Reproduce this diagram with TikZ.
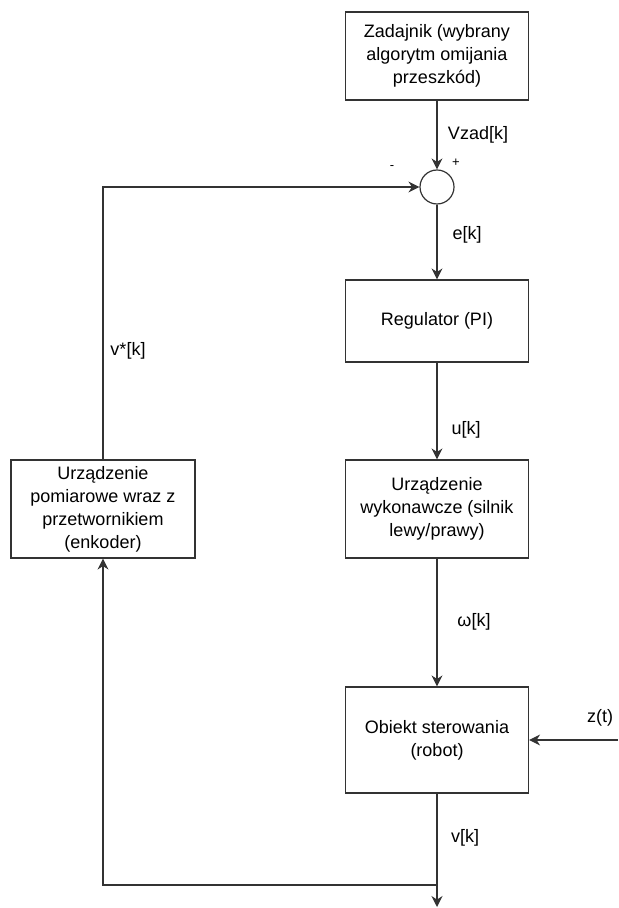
\documentclass[tikz,border=0pt]{standalone}
\usepackage{fontspec}
\setmainfont{Liberation Sans}
\usetikzlibrary{shapes,arrows.meta}

\begin{document}
\begin{tikzpicture}[x=0.5pt,y=-0.5pt,
        font=\fontsize{9}{11.5}\selectfont,
        blok/.style={draw=black!80, line width=0.6pt, minimum width=91.5pt, align=center, inner sep=2pt},
        strz/.style={draw=black!80, line width=0.6pt, -{Stealth[length=5.5pt,width=5.5pt]}},
        lin/.style={draw=black!80, line width=0.6pt},
        znak/.style={font=\fontsize{6.5}{7}\selectfont, inner sep=1pt}]
        \useasboundingbox (0,0) rectangle (618,908);

        % bloki toru glownego
        \node[blok, minimum height=44pt] (zad) at (437,56) {Zadajnik (wybrany\\algorytm omijania\\przeszkód)};
        \node[circle, draw=black!80, line width=0.6pt, minimum size=17pt, inner sep=0pt] (suma) at (437,187) {};
        \node[blok, minimum height=41pt] (reg) at (437,321) {Regulator (PI)};
        \node[blok, minimum height=49pt] (wyk) at (437,509) {Urządzenie\\wykonawcze (silnik\\lewy/prawy)};
        \node[blok, minimum height=53pt] (obj) at (437,740) {Obiekt sterowania\\(robot)};
        \node[blok, minimum width=92pt, minimum height=49pt] (pom) at (103,509) {Urządzenie\\pomiarowe wraz z\\przetwornikiem\\(enkoder)};
        \coordinate (wezel) at (437,885);
        \coordinate (wyj) at (437,907);
        \coordinate (zak) at (618,740);

        % polaczenia
        \draw[strz] (zad) -- (suma);
        \draw[strz] (suma) -- (reg);
        \draw[strz] (reg) -- (wyk);
        \draw[strz] (wyk) -- (obj);
        \draw[lin] (obj) -- (wezel);
        \draw[strz] (wezel) -- (wyj);
        \draw[strz] (wezel) -| (pom);
        \draw[strz] (pom) |- (suma);
        \draw[strz] (zak) -- (obj);

        % opisy sygnalow
        \node (vzad) at (478,135) {Vzad[k]};
        \node[znak] (plus) at (456,163) {+};
        \node[znak] (minus) at (392,168) {-};
        \node (ek) at (467,235) {e[k]};
        \node (uk) at (466,430) {u[k]};
        \node (omk) at (474,622) {ω[k]};
        \node (vk) at (465,838) {v[k]};
        \node (zt) at (600,718) {z(t)};
        \node (vgw) at (128,351) {v*[k]};
\end{tikzpicture}
\end{document}
